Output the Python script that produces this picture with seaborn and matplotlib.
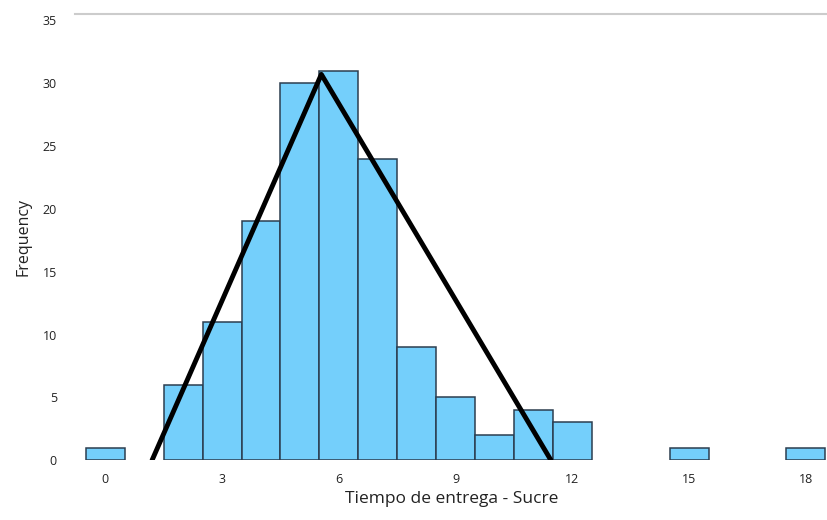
import matplotlib
matplotlib.use("Agg")
import matplotlib.pyplot as plt
import seaborn as sns
import pandas as pd

# Data
tiempos = [0, 2, 3, 4, 5, 6, 7, 8, 9, 10, 11, 12, 15, 18]
frecuencias = [1, 6, 11, 19, 30, 31, 24, 9, 5, 2, 4, 3, 1, 1]
tri_x = [1.2, 5.55, 11.45]
tri_y = [0, 30.7, 0]
x_ticks = [0, 3, 6, 9, 12, 15, 18]
x_tick_labels = ["0", "3", "6", "9", "12", "15", "18"]
y_ticks = [0, 5, 10, 15, 20, 25, 30, 35]

sns.set_style("white")
plt.rcParams["font.family"] = ["Open Sans", "DejaVu Sans"]

df = pd.DataFrame({"t": tiempos, "f": frecuencias})
tri = pd.DataFrame({"x": tri_x, "y": tri_y})

fig = plt.figure(figsize=(8.28, 5.2), dpi=100)
ax = fig.add_axes([0.0906, 0.115, 0.9094, 0.858])

sns.histplot(data=df, x="t", weights="f", discrete=True, ax=ax,
             color="#74CFFB", alpha=1.0, edgecolor="#2c3e50", linewidth=1.1)
for p in ax.patches:
    if p.get_height() == 0:
        p.set_visible(False)

sns.lineplot(data=tri, x="x", y="y", sort=False, ax=ax, color="black",
             linewidth=3.5, estimator=None)

ax.set_xlim(-0.78, 18.57)
ax.set_ylim(0, 35.5)
ax.set_xticks(x_ticks)
ax.set_xticklabels(x_tick_labels)
ax.set_yticks(y_ticks)
ax.tick_params(axis="both", labelsize=9, length=3, color="#cccccc", width=0.8,
               direction="out", pad=6, labelcolor="#222222")
ax.tick_params(axis="y", pad=10)

for s in ["left", "right", "bottom"]:
    ax.spines[s].set_visible(False)
ax.spines["top"].set_color("#cccccc")
ax.spines["top"].set_linewidth(1.5)

ax.set_xlabel("Tiempo de entrega - Sucre", fontsize=12.5, color="#222222", labelpad=4)
ax.set_ylabel("Frequency", fontsize=11.5, color="#222222", labelpad=8)
ax.grid(False)

fig.savefig("out.png", dpi=100)
